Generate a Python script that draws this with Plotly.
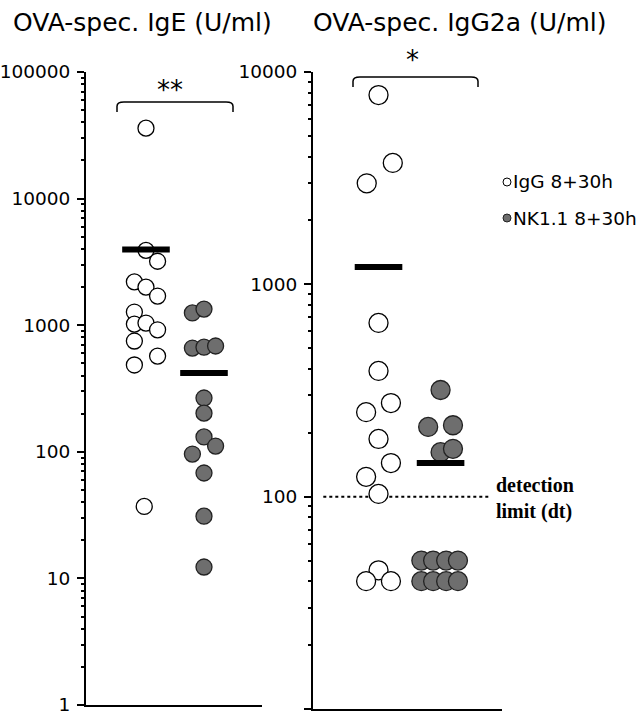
import plotly.graph_objects as go

W, H = 641, 719

# IgE (left panel)
ige_igg = [36000, 3900, 3200, 2200, 2000, 1700, 1270, 1020, 1040, 920, 750, 570, 485, 37]
ige_igg_x = [1.0, 1.0, 1.2, 0.8, 1.0, 1.2, 0.8, 0.8, 1.0, 1.2, 0.8, 1.2, 0.8, 0.97]
ige_nk = [1250, 1340, 660, 670, 685, 266, 202, 131, 111, 96, 68, 31, 12.3]
ige_nk_x = [1.8, 2.0, 1.8, 2.0, 2.2, 2.0, 2.0, 2.0, 2.2, 1.8, 2.0, 2.0, 2.0]
ige_means = [3970, 419]

# IgG2a (right panel)
g2a_igg = [7790, 3730, 2990, 658, 391, 276, 250, 187, 144, 124, 103, 45, 40, 40]
g2a_igg_x = [1.0, 1.23, 0.81, 1.0, 1.0, 1.2, 0.8, 1.0, 1.2, 0.8, 1.0, 1.0, 0.8, 1.2]
g2a_nk = [318, 213, 217, 162, 168, 50, 50, 50, 50, 40, 40, 40, 40]
g2a_nk_x = [2.0, 1.8, 2.2, 2.0, 2.2, 1.69, 1.88, 2.09, 2.28, 1.69, 1.88, 2.09, 2.28]
g2a_means = [1207, 144]

groups_x = [1, 2]
detection_limit = 100
group_names = ["IgG 8+30h", "NK1.1 8+30h"]


# window pixel -> paper fraction
def px(x):
    return x / W


def py(y):
    return 1 - y / H


def minor_ticks(lo, hi):
    return [m * 10 ** k for k in range(lo, hi) for m in range(2, 10)]


fig = go.Figure()

open_mk = dict(symbol="circle", color="white", line=dict(color="black", width=1.3))
fill_mk = dict(symbol="circle", color="#6e6e6e", line=dict(color="#222", width=1.3))

fig.add_trace(go.Scatter(x=ige_igg_x, y=ige_igg, mode="markers", xaxis="x", yaxis="y",
                         marker=dict(size=16, **open_mk)))
fig.add_trace(go.Scatter(x=ige_nk_x, y=ige_nk, mode="markers", xaxis="x", yaxis="y",
                         marker=dict(size=16, **fill_mk)))
fig.add_trace(go.Scatter(x=groups_x, y=ige_means, mode="markers", xaxis="x", yaxis="y",
                         marker=dict(symbol="line-ew", size=34, line=dict(color="black", width=6))))

fig.add_trace(go.Scatter(x=[0.11, 2.81], y=[detection_limit] * 2, mode="lines", xaxis="x2", yaxis="y2",
                         line=dict(color="black", width=2, dash="dot")))
fig.add_trace(go.Scatter(x=g2a_igg_x, y=g2a_igg, mode="markers", xaxis="x2", yaxis="y2",
                         marker=dict(size=19, **open_mk)))
fig.add_trace(go.Scatter(x=g2a_nk_x, y=g2a_nk, mode="markers", xaxis="x2", yaxis="y2",
                         marker=dict(size=19, **fill_mk)))
fig.add_trace(go.Scatter(x=groups_x, y=g2a_means, mode="markers", xaxis="x2", yaxis="y2",
                         marker=dict(symbol="line-ew", size=34, line=dict(color="black", width=6))))

# invisible traces carrying the minor-tick axes
fig.add_trace(go.Scatter(x=[1], y=[10], mode="markers", xaxis="x", yaxis="y3", opacity=0))
fig.add_trace(go.Scatter(x=[1], y=[100], mode="markers", xaxis="x2", yaxis="y4", opacity=0))

yax = dict(type="log", dtick=1, tickformat="d", showgrid=False, zeroline=False, automargin=False,
           showline=True, linecolor="black", linewidth=2, ticks="outside", ticklen=7, tickwidth=2,
           tickcolor="black", ticklabelstandoff=3,
           tickfont=dict(family="DejaVu Sans", size=18.5, color="black"))
yminor = dict(type="log", tickmode="array", showticklabels=False, showgrid=False, zeroline=False,
              automargin=False, showline=False, ticks="outside", ticklen=4, tickwidth=1.5,
              tickcolor="black")
xax = dict(showgrid=False, zeroline=False, showticklabels=False, ticks="", automargin=False,
           showline=True, linecolor="black", linewidth=2)

fig.update_layout(
    width=W, height=H, margin=dict(l=0, r=0, t=0, b=0, autoexpand=False),
    paper_bgcolor="white", plot_bgcolor="white", showlegend=False,
    xaxis=dict(domain=[px(86), px(262)], range=[-0.034, 3.0], anchor="y", **xax),
    yaxis=dict(domain=[py(705), py(72)], range=[0, 5], anchor="x", **yax),
    xaxis2=dict(domain=[px(313), px(502)], range=[-0.056, 2.99], anchor="y2", **xax),
    yaxis2=dict(domain=[py(709), py(72)], range=[1, 4], anchor="x2", **yax),
    yaxis3=dict(overlaying="y", anchor="x", range=[0, 5], tickvals=minor_ticks(0, 5), **yminor),
    yaxis4=dict(overlaying="y2", anchor="x2", range=[1, 4], tickvals=minor_ticks(1, 4), **yminor),
)

sans = "DejaVu Sans"
ann = [
    dict(x=px(11), y=py(22), text="OVA-spec. IgE (U/ml)", xanchor="left", font=dict(size=25)),
    dict(x=px(311), y=py(22), text="OVA-spec. IgG2a (U/ml)", xanchor="left", font=dict(size=25)),
    dict(x=px(170), y=py(90), text="**", xanchor="center", font=dict(size=26)),
    dict(x=px(412), y=py(60), text="*", xanchor="center", font=dict(size=26)),
    dict(x=px(511), y=py(182), text=group_names[0], xanchor="left", font=dict(size=18.5)),
    dict(x=px(511), y=py(218), text=group_names[1], xanchor="left", font=dict(size=18.5)),
    dict(x=px(494), y=py(498), text="<b>detection<br>limit (dt)</b>", xanchor="left", align="left",
         font=dict(size=20, family="Liberation Serif")),
]
for a in ann:
    a["font"].setdefault("family", sans)
    a["font"]["color"] = "black"
    fig.add_annotation(xref="paper", yref="paper", yanchor="middle", showarrow=False, **a)


def bracket(x0, x1, top, bottom, r=7):
    return (f"M {px(x0)},{py(bottom)} L {px(x0)},{py(top + r * 0.6)} "
            f"Q {px(x0)},{py(top)} {px(x0 + r)},{py(top)} L {px(x1 - r)},{py(top)} "
            f"Q {px(x1)},{py(top)} {px(x1)},{py(top + r * 0.6)} L {px(x1)},{py(bottom)}")


fig.add_shape(type="path", xref="paper", yref="paper", path=bracket(117, 233, 102, 112),
              line=dict(color="black", width=1.5))
fig.add_shape(type="path", xref="paper", yref="paper", path=bracket(353, 478, 77, 87),
              line=dict(color="black", width=1.5))

# legend symbols
fig.add_shape(type="circle", xref="paper", yref="paper", x0=px(503), x1=px(511), y0=py(178), y1=py(186),
              fillcolor="white", line=dict(color="black", width=1))
fig.add_shape(type="circle", xref="paper", yref="paper", x0=px(503), x1=px(511), y0=py(214), y1=py(222),
              fillcolor="#6e6e6e", line=dict(color="#222", width=1))

# drop the browser's default body margin so the figure fills the window
fig.write_html("out.html", config={"displayModeBar": False},
               post_script="document.body.style.margin='0px';")
